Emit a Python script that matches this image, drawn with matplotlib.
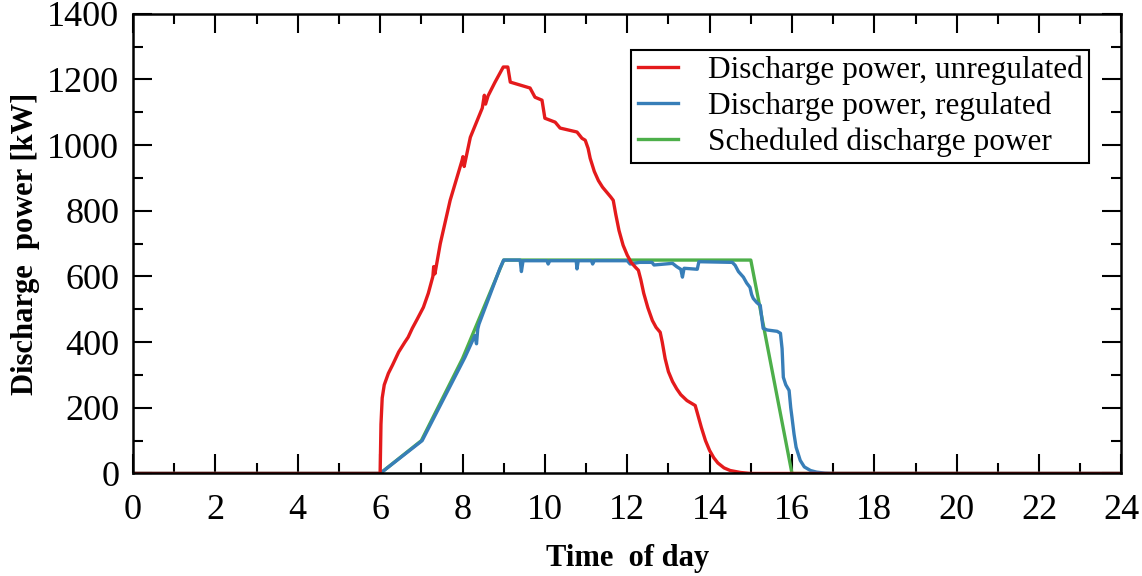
import numpy as np
import matplotlib.pyplot as plt
from matplotlib.ticker import MultipleLocator

plt.rcParams["font.family"] = ["Liberation Serif", "DejaVu Serif"]

# unregulated discharge power (hour, kW)
unreg_t = [0, 6.0, 6.02, 6.05, 6.1, 6.2, 6.3, 6.45, 6.6, 6.68, 6.78, 6.9, 7.05, 7.17,
           7.28, 7.30, 7.33, 7.46, 7.70, 7.99, 8.01, 8.04, 8.19, 8.48, 8.53, 8.56,
           8.62, 8.79, 8.99, 9.1, 9.16, 9.64, 9.76, 9.93, 10.0, 10.25, 10.37, 10.78,
           10.9, 10.98, 11.05, 11.1, 11.2, 11.3, 11.4, 11.5, 11.6, 11.66, 11.72,
           11.8, 11.9, 12.0, 12.1, 12.2, 12.27, 12.33, 12.4, 12.5, 12.61, 12.7,
           12.8, 12.85, 12.92, 13.0, 13.1, 13.2, 13.3, 13.45, 13.65, 13.7, 13.8,
           13.9, 14.0, 14.1, 14.2, 14.35, 14.5, 14.75, 15.0, 24]
unreg_p = [0, 0, 150, 230, 270, 305, 330, 370, 400, 415, 442, 470, 506, 549,
           600, 630, 608, 700, 832, 954, 965, 935, 1024, 1113, 1152, 1125,
           1150, 1192, 1238, 1238, 1192, 1174, 1146, 1137, 1082, 1070, 1052, 1040,
           1021, 1015, 990, 960, 920, 892, 872, 857, 842, 832, 790,
           740, 695, 665, 642, 628, 619, 590, 549, 505, 466, 445,
           430, 400, 350, 310, 280, 258, 240, 222, 207, 185, 140,
           100, 70, 48, 32, 17, 9, 3, 0, 0]

# regulated discharge power (hour, kW)
reg_t = [0, 6.0, 7.02, 8.06, 8.30, 8.34, 8.37, 8.40, 8.91, 9.0, 9.40, 9.43, 9.47,
         10.05, 10.08, 10.12, 10.76, 10.78, 10.81, 11.13, 11.16, 11.2, 12.0,
         12.07, 12.3, 12.6, 12.65, 13.1, 13.2, 13.3, 13.34, 13.38, 13.7, 13.74,
         14.55, 14.62, 14.7, 14.82, 14.9, 14.98, 15.02, 15.06, 15.15, 15.23,
         15.27, 15.3, 15.4, 15.64, 15.72, 15.76, 15.79, 15.85, 15.93, 15.97,
         16.0, 16.05, 16.1, 16.2, 16.3, 16.45, 16.6, 16.8, 17.0, 24]
reg_p = [0, 0, 100, 354, 420, 395, 440, 455, 625, 650, 650, 615, 648,
         648, 638, 648, 648, 623, 648, 648, 638, 648, 648,
         638, 643, 643, 635, 640, 630, 622, 598, 625, 622, 645,
         643, 634, 615, 598, 580, 567, 545, 533, 520, 512,
         470, 442, 437, 433, 427, 380, 293, 270, 253, 200,
         171, 120, 80, 40, 20, 9, 4, 1, 0, 0]

# scheduled discharge power (hour, kW)
sched_t = [0, 6, 7, 8, 9, 15, 16, 24]
sched_p = [0, 0, 100, 350, 650, 650, 0, 0]

fig = plt.figure(figsize=(11.42, 5.76), dpi=100)
ax = fig.add_axes([0.1165, 0.178, 0.8655, 0.798])

lw = 2.4
l3, = ax.plot(sched_t, sched_p, color="#4daf4a", lw=lw)
l2, = ax.plot(reg_t, reg_p, color="#377eb8", lw=lw)
l1, = ax.plot(unreg_t, unreg_p, color="#e41a1c", lw=lw)

ax.set_xlim(0, 24)
ax.set_ylim(0, 1400)
ax.xaxis.set_major_locator(MultipleLocator(2))
ax.xaxis.set_minor_locator(MultipleLocator(1))
ax.yaxis.set_major_locator(MultipleLocator(200))
ax.yaxis.set_minor_locator(MultipleLocator(100))
ax.tick_params(which="both", direction="in", top=True, right=True,
               labelsize=26, width=1.5)
ax.tick_params(which="major", length=14)
ax.tick_params(which="minor", length=7)
ax.tick_params(axis="x", which="major", pad=15)
ax.tick_params(axis="y", which="major", pad=10)
for s in ax.spines.values():
    s.set_linewidth(1.8)

ax.set_xlabel("Time  of day", fontsize=22, fontweight="bold", labelpad=12)
ax.set_ylabel("Discharge  power [kW]", fontsize=22, fontweight="bold", labelpad=5)

leg = ax.legend([l1, l2, l3],
                ["Discharge power, unregulated", "Discharge power, regulated",
                 "Scheduled discharge power"],
                loc="upper right", bbox_to_anchor=(0.967, 0.922), borderaxespad=0,
                fontsize=22.5, handlelength=1.3, handletextpad=0.95,
                labelspacing=0.2, borderpad=0.2, fancybox=False, framealpha=1)
leg.get_frame().set_edgecolor("black")
leg.get_frame().set_linewidth(1.5)

fig.savefig("out.png", dpi=100)
